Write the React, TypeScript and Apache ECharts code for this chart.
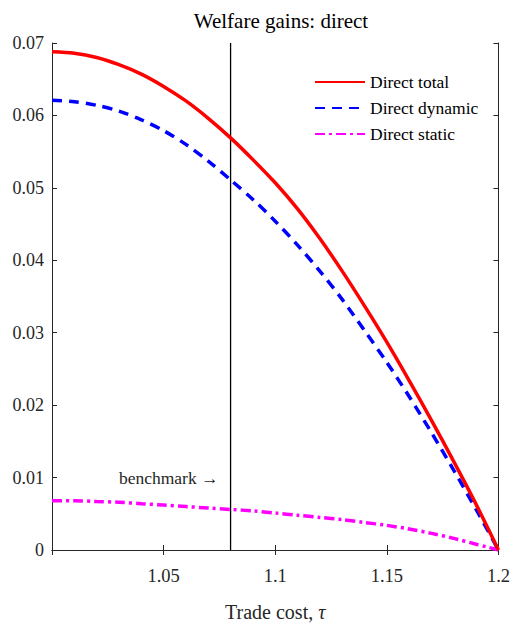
import React, { useEffect, useRef } from "react";
import * as echarts from "echarts";

const tau = [1.0, 1.01, 1.02, 1.03, 1.04, 1.05, 1.06, 1.07, 1.08, 1.09, 1.1, 1.11, 1.12, 1.13, 1.14, 1.15, 1.16, 1.17, 1.18, 1.19, 1.2];
const directTotal = [0.0688, 0.0686, 0.068, 0.067, 0.0657, 0.064, 0.062, 0.0596, 0.0569, 0.0539, 0.0507, 0.0471, 0.043, 0.0385, 0.0337, 0.0287, 0.0234, 0.0179, 0.0122, 0.0063, 0.0];
const directDynamic = [0.0621, 0.0619, 0.0614, 0.0606, 0.0594, 0.0579, 0.056, 0.0537, 0.0511, 0.0484, 0.0454, 0.0421, 0.0385, 0.0346, 0.0303, 0.0259, 0.0212, 0.0162, 0.011, 0.0056, 0.0];
const directStatic = [0.0068, 0.0068, 0.0067, 0.0066, 0.0064, 0.0062, 0.006, 0.0058, 0.0056, 0.0054, 0.0051, 0.0048, 0.0045, 0.0042, 0.0038, 0.0034, 0.0029, 0.0023, 0.0016, 0.0008, 0.0];
const benchmarkTau = 1.08;
const benchmarkLabelY = 0.01;
const seriesNames = ["Direct total", "Direct dynamic", "Direct static"];

const FONT = "Liberation Serif";
const AX = "#262626";

function pairs(ys: number[]) {
  return tau.map((x, i) => [x, ys[i]]);
}

function fmtX(v: number) {
  if (Math.abs(v - 1) < 1e-9) return "";
  return "{s|" + String(parseFloat(v.toFixed(2))) + "}";
}
function fmtY(v: number) {
  return "{s|" + String(parseFloat(v.toFixed(2))) + "}";
}

function rich(size: number, color: string, italic = false) {
  return { fontFamily: FONT, fontSize: size, color, fontStyle: italic ? "italic" : "normal", fontWeight: "normal" };
}

export default function App() {
  const ref = useRef<HTMLDivElement>(null);
  useEffect(() => {
    if (!ref.current) return;
    const chart = echarts.init(ref.current, undefined, { renderer: "svg" });
    const axisCommon = {
      axisLine: { show: true, lineStyle: { color: AX, width: 1 } },
      axisTick: { show: true, inside: true, length: 5, lineStyle: { color: AX, width: 1 } },
      splitLine: { show: false },
    };
    chart.setOption({
      animation: false,
      backgroundColor: "#ffffff",
      textStyle: { fontFamily: FONT },
      title: {
        text: "{s|Welfare gains: direct}",
        left: 276,
        textAlign: "center",
        top: 5,
        textStyle: {
          fontFamily: FONT,
          fontSize: 21,
          fontWeight: "normal",
          color: "#000",
          rich: { s: rich(21, "#000") },
        },
      },
      legend: {
        orient: "vertical",
        left: 314,
        top: 73,
        padding: 0,
        itemWidth: 50,
        itemHeight: 12,
        itemGap: 8,
        data: seriesNames,
        itemStyle: { opacity: 0 },
        formatter: (n: string) => "{s|" + n + "}",
        textStyle: { fontFamily: FONT, fontSize: 17.5, color: "#000", rich: { s: rich(17.5, "#000") } },
      },
      grid: { left: 52, right: 14, top: 43, bottom: 77, containLabel: false },
      xAxis: [
        {
          type: "value",
          min: 1.0,
          max: 1.2,
          interval: 0.05,
          position: "bottom",
          ...axisCommon,
          axisLabel: {
            formatter: fmtX,
            fontFamily: FONT,
            fontSize: 18.5,
            color: AX,
            margin: 16,
            rich: { s: rich(18.5, AX) },
          },
          name: "{s|Trade cost, }{i|τ}",
          nameLocation: "middle",
          nameGap: 52,
          nameTextStyle: {
            fontFamily: FONT,
            fontSize: 20,
            color: AX,
            rich: { s: rich(20, AX), i: rich(20, AX, true) },
          },
        },
        {
          type: "value",
          min: 1.0,
          max: 1.2,
          interval: 0.05,
          position: "top",
          ...axisCommon,
          axisLabel: { show: false },
        },
      ],
      yAxis: [
        {
          type: "value",
          min: 0,
          max: 0.07,
          interval: 0.01,
          position: "left",
          ...axisCommon,
          axisLabel: {
            formatter: fmtY,
            fontFamily: FONT,
            fontSize: 18,
            color: AX,
            margin: 8,
            rich: { s: rich(18, AX) },
          },
        },
        {
          type: "value",
          min: 0,
          max: 0.07,
          interval: 0.01,
          position: "right",
          ...axisCommon,
          axisLabel: { show: false },
        },
      ],
      series: [
        {
          name: "benchmark",
          type: "line",
          data: [[benchmarkTau, 0], [benchmarkTau, 0.07]],
          symbol: "none",
          lineStyle: { color: "#000", width: 1.3 },
          silent: true,
          markPoint: {
            symbol: "circle",
            symbolSize: 0,
            data: [{ coord: [benchmarkTau, benchmarkLabelY] }],
            label: {
              show: true,
              position: "left",
              distance: 12,
              formatter: "{s|benchmark →}",
              fontFamily: FONT,
              fontSize: 17.5,
              color: "#262626",
              rich: { s: rich(17.5, "#262626") },
            },
          },
        },
        {
          name: seriesNames[0],
          type: "line",
          data: pairs(directTotal),
          symbol: "none",
          smooth: 0.3,
          lineStyle: { color: "#ff0000", width: 3.5 },
          itemStyle: { color: "#ff0000" },
          z: 5,
        },
        {
          name: seriesNames[1],
          type: "line",
          data: pairs(directDynamic),
          symbol: "none",
          smooth: 0.3,
          lineStyle: { color: "#0000ff", width: 3.5, type: [10, 7] },
          itemStyle: { color: "#0000ff" },
          z: 4,
        },
        {
          name: seriesNames[2],
          type: "line",
          data: pairs(directStatic),
          symbol: "none",
          smooth: 0.3,
          lineStyle: { color: "#ff00ff", width: 3.5, type: [10, 4, 3, 4] },
          itemStyle: { color: "#ff00ff" },
          z: 3,
        },
      ],
    });
    return () => chart.dispose();
  }, []);
  return (
    <div
      ref={ref}
      style={{ position: "fixed", left: 0, top: 0, width: 513, height: 627, background: "#fff" }}
    />
  );
}
